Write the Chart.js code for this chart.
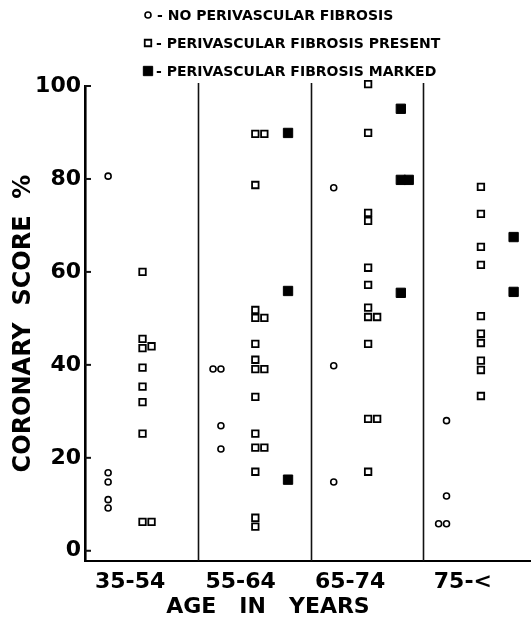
<!DOCTYPE html>
<html>
<head>
<meta charset="utf-8">
<script src="https://cdn.jsdelivr.net/npm/chart.js@4.4.1/dist/chart.umd.min.js"></script>
<style>
  html, body { margin: 0; padding: 0; background: #fff; }
  #wrap { position: relative; width: 531px; height: 626px; }
</style>
</head>
<body>
<div id="wrap"><canvas id="scoreChart"></canvas></div>
<script>
// Categories and tick labels
const ageGroups = ['35-54', '55-64', '65-74', '75-<'];
const yTicks = [0, 20, 40, 60, 80, 100];

// Open circles - no perivascular fibrosis
const noneGroup = [0, 0, 0, 0, 0, 1, 1, 1, 1, 2, 2, 2, 3, 3, 3, 3];
const noneScore = [80.6, 16.8, 14.8, 11.0, 9.2, 39.1, 39.1, 26.9, 21.9, 78.1, 39.8, 14.8, 28.0, 11.8, 5.8, 5.8];
const noneSide  = [0, 0, 0, 0, 0, -1, 0, 0, 0, 0, 0, 0, 0, 0, -1, 0];

// Open squares - perivascular fibrosis present
const presentGroup = [
  0, 0, 0, 0, 0, 0, 0, 0, 0, 0,
  1, 1, 1, 1, 1, 1, 1, 1, 1, 1, 1, 1, 1, 1, 1, 1, 1,
  2, 2, 2, 2, 2, 2, 2, 2, 2, 2, 2, 2, 2,
  3, 3, 3, 3, 3, 3, 3, 3, 3, 3
];
const presentScore = [
  60.0, 45.6, 43.6, 44.0, 39.4, 35.3, 32.0, 25.2, 6.2, 6.2,
  89.7, 89.7, 78.7, 51.8, 50.1, 50.1, 44.5, 41.1, 39.1, 39.1, 33.1, 25.2, 22.2, 22.2, 17.0, 7.1, 5.2,
  100.4, 89.9, 72.7, 71.0, 60.9, 57.2, 52.3, 50.3, 50.3, 44.5, 28.4, 28.4, 17.0,
  78.3, 72.5, 65.4, 61.5, 50.5, 46.7, 44.7, 40.9, 38.9, 33.3
];
const presentSide = [
  0, 0, 0, 1, 0, 0, 0, 0, 0, 1,
  0, 1, 0, 0, 0, 1, 0, 0, 0, 1, 0, 0, 0, 1, 0, 0, 0,
  0, 0, 0, 0, 0, 0, 0, 0, 1, 0, 0, 1, 0,
  0, 0, 0, 0, 0, 0, 0, 0, 0, 0
];

// Filled squares - perivascular fibrosis marked
const markedGroup = [1, 1, 1, 2, 2, 2, 2, 3, 3];
const markedScore = [89.9, 55.9, 15.3, 95.1, 79.8, 79.8, 55.5, 67.5, 55.7];
const markedSide  = [0, 0, 0, 0, 0, 1, 0, 0, 0];

// column inside each age group (layout, not data)
const lanes = { none: [0.205, 0.07], present: [0.51, 0.08], marked: [0.80, 0.07] };
const labelPos = [0.40, 1.38, 2.35, 3.35];

function toPoints(groups, scores, sides, lane) {
  return scores.map((s, i) => ({ x: groups[i] + lane[0] + sides[i] * lane[1], y: s }));
}

const FONT = '"DejaVu Sans", sans-serif';

// separators, small ticks on the y axis, legend block and x title
const paperFrame = {
  id: 'paperFrame',
  beforeDatasetsDraw(chart) {
    const ctx = chart.ctx;
    const xs = chart.scales.x, ys = chart.scales.y;
    const a = chart.chartArea;
    ctx.save();
    ctx.strokeStyle = '#111';
    ctx.lineWidth = 1.6;
    [1, 2, 3].forEach(g => {
      const px = Math.round(xs.getPixelForValue(g)) + 0.5;
      ctx.beginPath();
      ctx.moveTo(px, a.top - 3);
      ctx.lineTo(px, a.bottom);
      ctx.stroke();
    });
    ctx.lineWidth = 2;
    yTicks.forEach(v => {
      const py = ys.getPixelForValue(v);
      ctx.beginPath();
      ctx.moveTo(a.left, py);
      ctx.lineTo(a.left + 6, py);
      ctx.stroke();
    });
    ctx.restore();
  },
  afterDraw(chart) {
    const ctx = chart.ctx;
    const sets = chart.data.datasets;
    const rows = [15, 43, 71];
    const textX = [157, 156, 156];
    ctx.save();
    ctx.fillStyle = '#000';
    ctx.font = 'bold 14px ' + FONT;
    ctx.textBaseline = 'middle';
    sets.forEach((ds, i) => {
      const y = rows[i];
      const x = 148;
      ctx.lineWidth = ds.borderWidth;
      ctx.strokeStyle = '#000';
      ctx.fillStyle = ds.backgroundColor;
      ctx.beginPath();
      if (ds.pointStyle === 'circle') {
        ctx.arc(x, y, ds.pointRadius, 0, Math.PI * 2);
      } else {
        const h = ds.pointRadius * Math.SQRT1_2;
        ctx.rect(x - h, y - h, 2 * h, 2 * h);
      }
      ctx.fill();
      ctx.stroke();
      ctx.fillStyle = '#000';
      ctx.fillText('- ' + ds.label, textX[i], y + 1);
    });
    ctx.font = 'bold 22px ' + FONT;
    ctx.textAlign = 'center';
    ctx.fillText('AGE   IN   YEARS', 268, 607);
    ctx.restore();
  }
};

function displayChart() {
  const ctx = document.getElementById('scoreChart').getContext('2d');
  new Chart(ctx, {
    type: 'scatter',
    data: {
      datasets: [
        {
          label: 'NO PERIVASCULAR FIBROSIS',
          data: toPoints(noneGroup, noneScore, noneSide, lanes.none),
          pointStyle: 'circle',
          pointRadius: 3,
          borderWidth: 1.6,
          borderColor: '#000',
          backgroundColor: '#fff',
          clip: false,
        },
        {
          label: 'PERIVASCULAR FIBROSIS PRESENT',
          data: toPoints(presentGroup, presentScore, presentSide, lanes.present),
          pointStyle: 'rect',
          pointRadius: 4.6,
          borderWidth: 1.8,
          borderColor: '#000',
          backgroundColor: '#fff',
          clip: false,
        },
        {
          label: 'PERIVASCULAR FIBROSIS MARKED',
          data: toPoints(markedGroup, markedScore, markedSide, lanes.marked),
          pointStyle: 'rect',
          pointRadius: 6.6,
          borderWidth: 1,
          borderColor: '#000',
          backgroundColor: '#000',
          clip: false,
        },
      ],
    },
    options: {
      responsive: true,
      maintainAspectRatio: false,
      animation: false,
      layout: { autoPadding: false, padding: { top: 86, right: 0, bottom: 0, left: 0 } },
      plugins: {
        legend: { display: false },
        tooltip: { enabled: false },
      },
      scales: {
        x: {
          type: 'linear',
          min: 0,
          max: 3.954,
          afterBuildTicks: scale => { scale.ticks = labelPos.map(v => ({ value: v })); },
          afterFit: scale => { scale.height = 65; },
          ticks: {
            autoSkip: false,
            maxRotation: 0,
            padding: 8,
            color: '#000',
            font: { family: FONT, size: 22, weight: 'bold' },
            callback: (v, i) => ageGroups[i],
          },
          grid: { display: false, drawTicks: false },
          border: { display: true, color: '#000', width: 2 },
        },
        y: {
          min: -2.2,
          max: 100,
          afterBuildTicks: scale => { scale.ticks = yTicks.map(v => ({ value: v })); },
          afterFit: scale => { scale.width = 85; },
          ticks: {
            padding: 4,
            color: '#000',
            font: { family: FONT, size: 22, weight: 'bold' },
          },
          grid: { display: false, drawTicks: false },
          border: { display: true, color: '#000', width: 2.6 },
          title: {
            display: true,
            text: 'CORONARY  SCORE  %',
            color: '#000',
            font: { family: FONT, size: 24, weight: 'bold' },
            padding: { top: 9, bottom: 0 },
          },
        },
      },
    },
    plugins: [paperFrame],
  });
}

window.onload = () => {
  displayChart();
};
</script>
</body>
</html>
